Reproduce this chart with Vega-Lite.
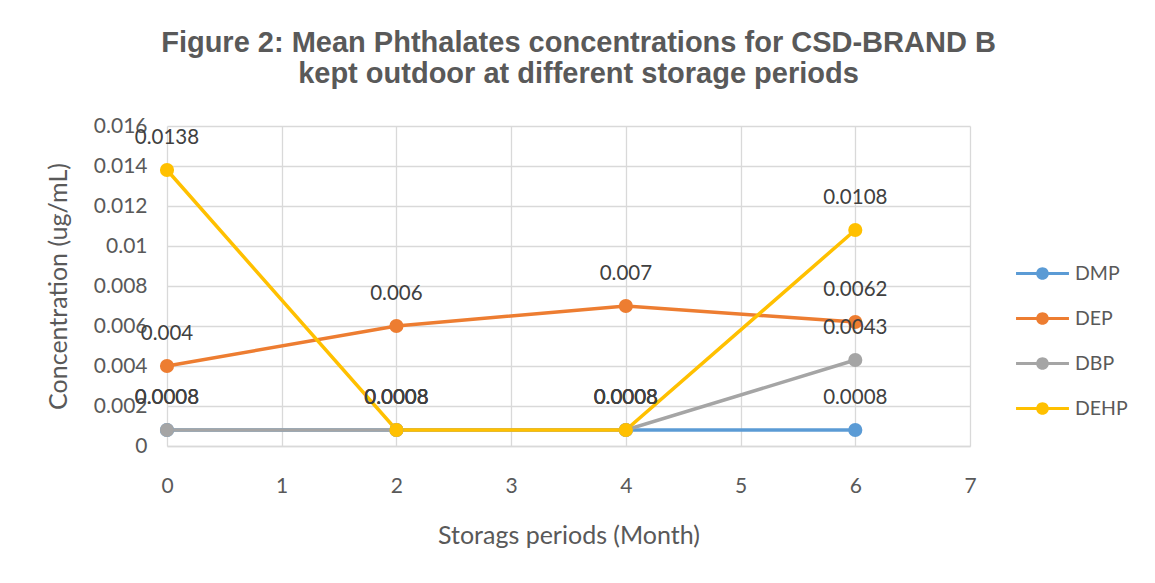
{
  "$schema": "https://vega.github.io/schema/vega-lite/v6.json",
  "width": 803,
  "height": 320,
  "autosize": "none",
  "padding": {"left": 167, "top": 126, "right": 185, "bottom": 137},
  "background": "white",
  "title": {
    "text": ["Figure 2: Mean Phthalates concentrations for CSD-BRAND B", "kept outdoor at different storage periods"],
    "font": "Liberation Sans",
    "fontSize": 29,
    "fontWeight": "bold",
    "color": "#595959",
    "anchor": "middle",
    "offset": 26,
    "dx": 10,
    "lineHeight": 31
  },
  "config": {
    "view": {"stroke": null},
    "axis": {
      "grid": true,
      "gridColor": "#D9D9D9",
      "gridWidth": 1.3,
      "domainColor": "#D9D9D9",
      "domainWidth": 1.3,
      "ticks": false,
      "labelFlush": false,
      "labelFont": "Lato",
      "labelFontSize": 21,
      "labelColor": "#595959",
      "titleFont": "Lato",
      "titleFontSize": 25,
      "titleFontWeight": "normal",
      "titleColor": "#595959"
    }
  },
  "data": {
    "values": [
      {"series": "DMP", "month": 0, "conc": 0.0008},
      {"series": "DMP", "month": 2, "conc": 0.0008},
      {"series": "DMP", "month": 4, "conc": 0.0008},
      {"series": "DMP", "month": 6, "conc": 0.0008},
      {"series": "DEP", "month": 0, "conc": 0.004},
      {"series": "DEP", "month": 2, "conc": 0.006},
      {"series": "DEP", "month": 4, "conc": 0.007},
      {"series": "DEP", "month": 6, "conc": 0.0062},
      {"series": "DBP", "month": 0, "conc": 0.0008},
      {"series": "DBP", "month": 2, "conc": 0.0008},
      {"series": "DBP", "month": 4, "conc": 0.0008},
      {"series": "DBP", "month": 6, "conc": 0.0043},
      {"series": "DEHP", "month": 0, "conc": 0.0138},
      {"series": "DEHP", "month": 2, "conc": 0.0008},
      {"series": "DEHP", "month": 4, "conc": 0.0008},
      {"series": "DEHP", "month": 6, "conc": 0.0108}
    ]
  },
  "encoding": {
    "x": {
      "field": "month",
      "type": "quantitative",
      "scale": {"domain": [0, 7], "nice": false, "zero": false},
      "axis": {
        "values": [0, 1, 2, 3, 4, 5, 6, 7],
        "format": "d",
        "title": "Storags periods (Month)",
        "labelPadding": 29,
        "titlePadding": 27
      }
    },
    "y": {
      "field": "conc",
      "type": "quantitative",
      "scale": {"domain": [0, 0.016], "nice": false},
      "axis": {
        "values": [0, 0.002, 0.004, 0.006, 0.008, 0.01, 0.012, 0.014, 0.016],
        "format": "~g",
        "title": "Concentration (ug/mL)",
        "labelPadding": 20,
        "titlePadding": 22,
        "domain": false
      }
    },
    "color": {
      "field": "series",
      "type": "nominal",
      "sort": ["DMP", "DEP", "DBP", "DEHP"],
      "scale": {
        "domain": ["DMP", "DEP", "DBP", "DEHP"],
        "range": ["#5B9BD5", "#ED7D31", "#A5A5A5", "#FFC000"]
      },
      "legend": {
        "orient": "none",
        "legendX": 849,
        "legendY": 121,
        "title": null,
        "symbolType": "M-1,-0.055H1V0.055H-1Z M-0.24,0A0.24,0.24 0 1,1 0.24,0A0.24,0.24 0 1,1 -0.24,0Z",
        "symbolSize": 2800,
        "symbolStrokeWidth": 0,
        "symbolOpacity": 1,
        "labelFont": "Lato",
        "labelFontSize": 19.5,
        "labelColor": "#595959",
        "labelOffset": 6,
        "rowPadding": 9,
        "encode": {
          "symbols": {
            "update": {
              "fill": {"scale": "color", "field": "value"},
              "stroke": {"value": "transparent"},
              "opacity": {"value": 1}
            }
          }
        }
      }
    }
  },
  "layer": [
    {"mark": {"type": "line", "strokeWidth": 3.5}},
    {"mark": {"type": "point", "filled": true, "size": 200, "opacity": 1}},
    {
      "mark": {"type": "text", "dy": -32, "font": "Lato", "fontSize": 20.5, "color": "#404040"},
      "encoding": {
        "text": {"field": "conc", "type": "quantitative", "format": "~g"},
        "color": {"value": "#404040"}
      }
    }
  ]
}
